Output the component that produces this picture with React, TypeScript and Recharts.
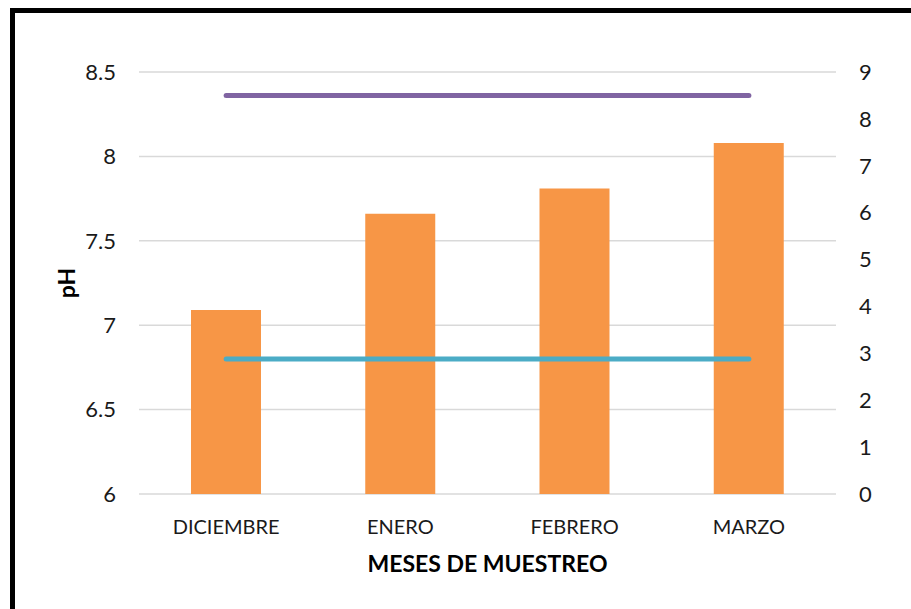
import React from "react";
import {
  ComposedChart,
  Bar,
  Line,
  XAxis,
  YAxis,
  CartesianGrid,
} from "recharts";

// meses de muestreo
const months = ["DICIEMBRE", "ENERO", "FEBRERO", "MARZO"];
// pH medido por mes (eje izquierdo)
const phValues = [7.09, 7.66, 7.81, 8.08];
// límite superior (eje derecho) y límite inferior (eje izquierdo)
const upperLimit = [8.5, 8.5, 8.5, 8.5];
const lowerLimit = [6.8, 6.8, 6.8, 6.8];
// ticks de los ejes
const leftTicks = [6, 6.5, 7, 7.5, 8, 8.5];
const rightTicks = [0, 1, 2, 3, 4, 5, 6, 7, 8, 9];

const data = months.map((m, i) => ({
  month: m,
  ph: phValues[i],
  upper: upperLimit[i],
  lower: lowerLimit[i],
}));

const font = "Lato, 'Open Sans', sans-serif";
const tickStyle = { fill: "#1a1a1a", fontSize: 20, fontFamily: font };
const numTickStyle = { fill: "#1a1a1a", fontSize: 22, fontFamily: font };
const titleStyle = {
  fill: "#000",
  fontSize: 23,
  fontWeight: 700,
  fontFamily: font,
};

export default function App() {
  return (
    <div
      style={{
        position: "absolute",
        left: 0,
        top: 0,
        width: 911,
        height: 609,
        overflow: "hidden",
        background: "#fff",
      }}
    >
      {/* marco negro (solo se ven arriba e izquierda) */}
      <div
        style={{
          position: "absolute",
          left: 10,
          top: 8,
          width: 930,
          height: 630,
          border: "5px solid #000",
        }}
      />
      <div style={{ position: "absolute", left: 0, top: 0 }}>
        <ComposedChart
          width={911}
          height={609}
          data={data}
          margin={{ top: 72, right: 0, bottom: 0, left: 0 }}
        >
          <CartesianGrid
            yAxisId="left"
            vertical={false}
            stroke="#d9d9d9"
            strokeWidth={1.5}
          />
          <XAxis
            dataKey="month"
            height={115}
            axisLine={false}
            tickLine={false}
            tickMargin={20}
            tick={tickStyle}
            label={{
              value: "MESES DE MUESTREO",
              position: "insideBottom",
              offset: 37,
              style: titleStyle,
            }}
          />
          <YAxis
            yAxisId="left"
            width={139}
            domain={[6, 8.5]}
            ticks={leftTicks}
            axisLine={false}
            tickLine={false}
            tickMargin={17}
            tick={numTickStyle}
            label={{
              value: "pH",
              angle: -90,
              position: "center",
              dx: -3,
              style: titleStyle,
            }}
          />
          <YAxis
            yAxisId="right"
            orientation="right"
            width={75}
            domain={[0, 9]}
            ticks={rightTicks}
            axisLine={false}
            tickLine={false}
            tickMargin={17}
            tick={numTickStyle}
          />
          <Bar
            yAxisId="left"
            dataKey="ph"
            fill="#F79646"
            barSize={70}
            isAnimationActive={false}
          />
          <Line
            yAxisId="right"
            dataKey="upper"
            stroke="#8064A2"
            strokeWidth={5}
            strokeLinecap="round"
            dot={false}
            activeDot={false}
            isAnimationActive={false}
          />
          <Line
            yAxisId="left"
            dataKey="lower"
            stroke="#4BACC6"
            strokeWidth={5}
            strokeLinecap="round"
            dot={false}
            activeDot={false}
            isAnimationActive={false}
          />
        </ComposedChart>
      </div>
    </div>
  );
}
